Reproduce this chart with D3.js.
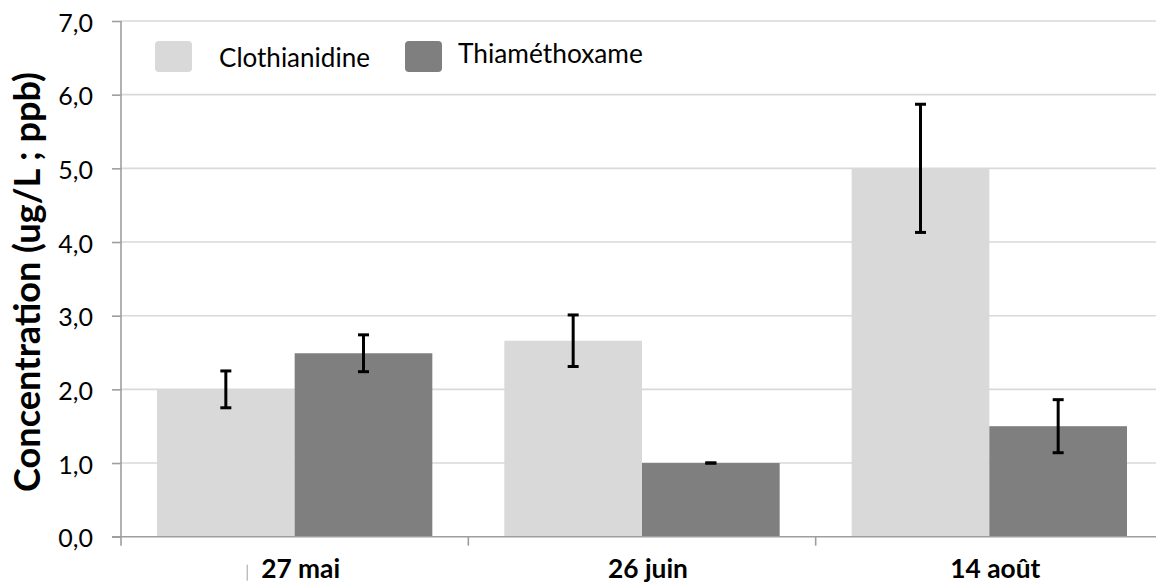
<!DOCTYPE html>
<html>
<head>
<meta charset="utf-8">
<script src="https://cdn.jsdelivr.net/npm/d3@7"></script>
<style>
  html, body { margin: 0; padding: 0; background: #fff; }
  svg { display: block; }
  text { font-family: Lato, "Open Sans", sans-serif; fill: #000; }
</style>
</head>
<body>
<svg id="chart" width="1156" height="586"></svg>
<script>
// ---- data ----
const categories = ["27 mai", "26 juin", "14 août"];
const seriesNames = ["Clothianidine", "Thiaméthoxame"];
const clothianidine = [2.0, 2.66, 5.0];
const clothianidineErr = [0.25, 0.35, 0.87];
const thiamethoxame = [2.49, 1.0, 1.5];
const thiamethoxameErr = [0.25, 0.0, 0.36];
const yTicks = [0, 1, 2, 3, 4, 5, 6, 7];
const yTitle = "Concentration (ug/L ; ppb)";

(function () {
const colors = { "Clothianidine": "#d9d9d9", "Thiaméthoxame": "#7f7f7f" };
const rows = categories.map((c, i) => ({
  cat: c,
  values: [
    { s: seriesNames[0], v: clothianidine[i], e: clothianidineErr[i] },
    { s: seriesNames[1], v: thiamethoxame[i], e: thiamethoxameErr[i] }
  ]
}));

const svg = d3.select("#chart");
const pLeft = 121, pRight = 1163, pTop = 21, pBottom = 536.7;

const x0 = d3.scaleBand().domain(categories).range([pLeft, pRight]).padding(0);
const gap = 36;
const x1 = d3.scaleBand().domain(seriesNames).range([gap, x0.bandwidth() - gap]).padding(0);
const y = d3.scaleLinear().domain([0, 7]).range([pBottom, pTop]);

function fitFont(sel, target, base) {
  sel.style("font-size", base + "px");
  const w = sel.node().getComputedTextLength();
  const size = base * target / w;
  sel.style("font-size", size + "px");
  return size;
}

// gridlines
svg.append("g")
  .selectAll("line").data(yTicks.filter(t => t > 0)).join("line")
  .attr("x1", pLeft).attr("x2", pRight)
  .attr("y1", d => y(d)).attr("y2", d => y(d))
  .attr("stroke", "#d9d9d9").attr("stroke-width", 1.6);

// bars
const groups = svg.append("g").selectAll("g").data(rows).join("g")
  .attr("transform", d => `translate(${x0(d.cat)},0)`);

groups.selectAll("rect").data(d => d.values).join("rect")
  .attr("x", d => x1(d.s))
  .attr("width", x1.bandwidth())
  .attr("y", d => y(d.v))
  .attr("height", d => y(0) - y(d.v))
  .attr("fill", d => colors[d.s]);

// error bars
const eb = groups.selectAll("g.err").data(d => d.values).join("g").attr("class", "err");
const cx = d => x1(d.s) + x1.bandwidth() / 2;
eb.append("line")
  .attr("x1", cx).attr("x2", cx)
  .attr("y1", d => y(d.v + d.e)).attr("y2", d => y(d.v - d.e))
  .attr("stroke", "#000").attr("stroke-width", 3);
eb.append("line")
  .attr("x1", d => cx(d) - 5.5).attr("x2", d => cx(d) + 5.5)
  .attr("y1", d => y(d.v + d.e)).attr("y2", d => y(d.v + d.e))
  .attr("stroke", "#000").attr("stroke-width", 3);
eb.append("line")
  .attr("x1", d => cx(d) - 5.5).attr("x2", d => cx(d) + 5.5)
  .attr("y1", d => y(d.v - d.e)).attr("y2", d => y(d.v - d.e))
  .attr("stroke", "#000").attr("stroke-width", 3);

// y axis
const yAxis = svg.append("g").attr("transform", `translate(${pLeft},0)`)
  .call(d3.axisLeft(y).tickValues(yTicks).tickSize(9).tickPadding(19)
    .tickFormat(d => d3.format(".1f")(d).replace(".", ",")));
yAxis.select(".domain").attr("stroke", "#a09d9d").attr("stroke-width", 1.6)
  .attr("d", `M0,${pTop}V${pBottom}`);
yAxis.selectAll(".tick line").attr("stroke", "#a09d9d").attr("stroke-width", 1.6);
const yLabels = yAxis.selectAll(".tick text").attr("fill", "#000").attr("dy", "0.4em")
  .style("font-family", "Lato, 'Open Sans', sans-serif");
const tickSize = fitFont(yAxis.select(".tick:last-of-type text"), 35, 24);
yLabels.style("font-size", Math.min(tickSize, 25) + "px");

// x axis
const xAxis = svg.append("g").attr("transform", `translate(0,${pBottom})`);
xAxis.append("line").attr("x1", 112).attr("x2", pRight).attr("y1", 0).attr("y2", 0)
  .attr("stroke", "#a09d9d").attr("stroke-width", 1.6);
const boundaries = categories.map(c => x0(c)).concat([pRight]);
xAxis.selectAll("line.tk").data(boundaries).join("line").attr("class", "tk")
  .attr("x1", d => d).attr("x2", d => d).attr("y1", 0).attr("y2", 9)
  .attr("stroke", "#a09d9d").attr("stroke-width", 1.6);
const catLabels = xAxis.selectAll("text.cat").data(categories).join("text").attr("class", "cat")
  .attr("x", d => x0(d) + x0.bandwidth() / 2 + 6)
  .attr("y", 41)
  .attr("text-anchor", "middle")
  .style("font-weight", "bold")
  .text(d => d);
const catSize = fitFont(catLabels.filter((d, i) => i === 0), 79, 26);
catLabels.style("font-size", catSize + "px");
// small stray mark left of the first label
const firstBox = catLabels.filter((d, i) => i === 0).node().getBBox();
xAxis.append("line")
  .attr("x1", firstBox.x - 14).attr("x2", firstBox.x - 14)
  .attr("y1", 28).attr("y2", 44)
  .attr("stroke", "#a0a0a0").attr("stroke-width", 1);

// y title
const title = svg.append("text")
  .attr("transform", `translate(40,282) rotate(-90)`)
  .attr("text-anchor", "middle")
  .style("font-weight", "bold")
  .text(yTitle);
fitFont(title, 420, 36);

// legend
const legend = svg.append("g");
const legItems = [
  { s: seriesNames[0], rx: 155, tx: 219, ty: 66.7, w: 151 },
  { s: seriesNames[1], rx: 405, tx: 458, ty: 63.3, w: 185 }
];
legItems.forEach(it => {
  legend.append("rect").attr("x", it.rx).attr("y", 41).attr("width", 37).attr("height", 31)
    .attr("rx", 4).attr("fill", colors[it.s]);
  const t = legend.append("text").attr("x", it.tx).attr("y", it.ty).text(it.s);
  fitFont(t, it.w, 26);
});
})();
</script>
</body>
</html>
